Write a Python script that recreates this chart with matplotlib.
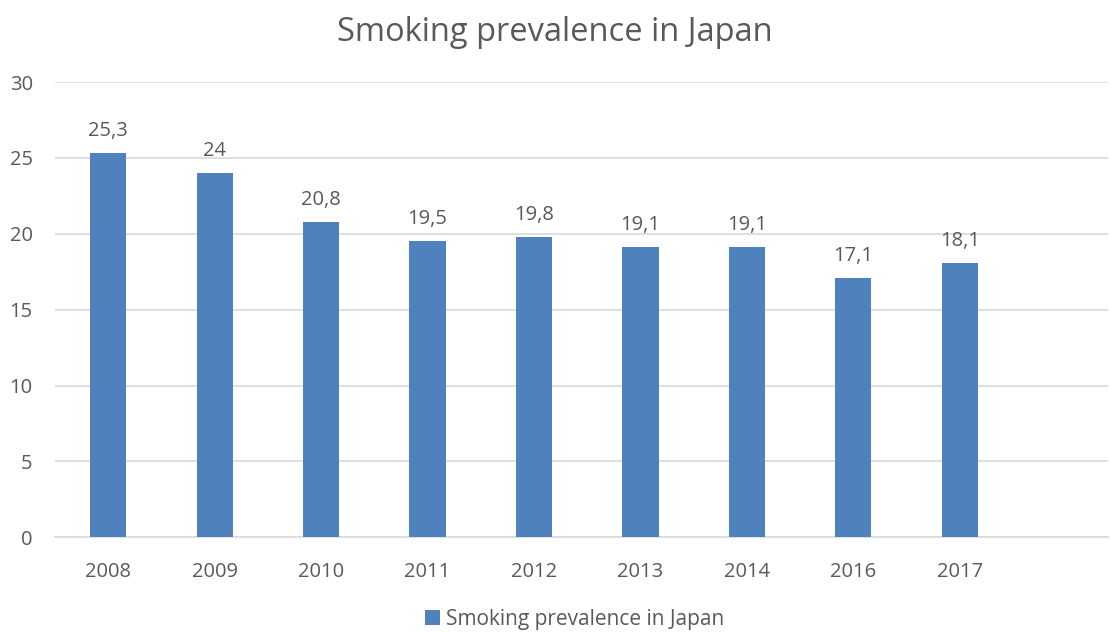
import matplotlib
matplotlib.use("Agg")
import matplotlib.pyplot as plt

plt.rcParams['font.family'] = ['Open Sans', 'DejaVu Sans']

years = ["2008", "2009", "2010", "2011", "2012", "2013", "2014", "2016", "2017", ""]
prevalence = [25.3, 24.0, 20.8, 19.5, 19.8, 19.1, 19.1, 17.1, 18.1, None]
labels = ["25,3", "24", "20,8", "19,5", "19,8", "19,1", "19,1", "17,1", "18,1", ""]

text_color = "#595959"
bar_color = "#4F81BD"

fig = plt.figure(figsize=(11.1, 6.32), dpi=100)
ax = fig.add_axes([0.0495, 0.150, 0.9485, 0.720])

x = list(range(len(years)))
vals = [v if v is not None else 0 for v in prevalence]
bars = ax.bar(x, vals, width=0.34, color=bar_color, zorder=3,
              label="Smoking prevalence in Japan")

for xi, v, lab in zip(x, prevalence, labels):
    if v is None:
        continue
    ax.text(xi, v + 0.8, lab, ha="center", va="bottom", fontsize=14.5, color=text_color)

ax.set_xlim(-0.5, 9.39)
ax.set_ylim(0, 30)
ax.set_yticks(range(0, 31, 5))
ax.set_xticks(x)
ax.set_xticklabels(years)
ax.tick_params(axis="both", length=0, labelsize=14.5, labelcolor=text_color)
ax.tick_params(axis="x", pad=18)
ax.tick_params(axis="y", pad=16)
ax.grid(axis="y", color="#D9D9D9", linewidth=1.2, zorder=0)
for s in ["top", "right", "left"]:
    ax.spines[s].set_visible(False)
ax.spines["bottom"].set_color("#D9D9D9")
ax.spines["bottom"].set_linewidth(1.2)

fig.suptitle("Smoking prevalence in Japan", y=0.975, fontsize=23.5, color=text_color)
fig.legend(handles=[bars], loc="lower center", bbox_to_anchor=(0.518, -0.026),
           frameon=False, fontsize=15, labelcolor=text_color,
           handlelength=0.7, handleheight=0.7, handletextpad=0.3)

fig.savefig("out.png", dpi=100)
